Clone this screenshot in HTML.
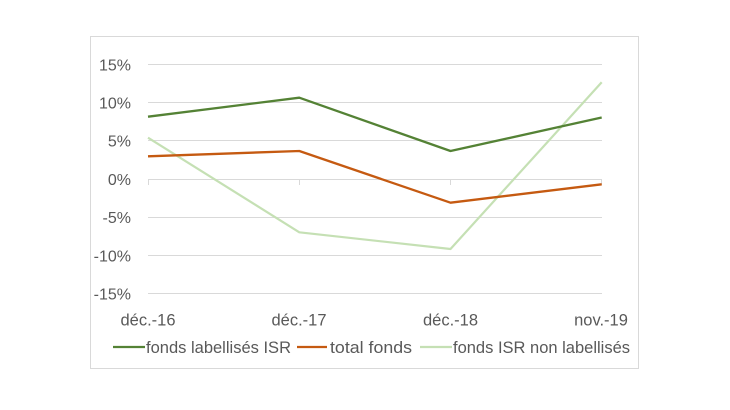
<!DOCTYPE html>
<html><head><meta charset="utf-8"><style>
html,body{margin:0;padding:0;background:#fff;}
svg{display:block;}
text{font-family:"Liberation Sans",sans-serif;fill:#595959;}
</style></head><body>
<svg width="730" height="410" viewBox="0 0 730 410" xmlns="http://www.w3.org/2000/svg">
<rect x="0" y="0" width="730" height="410" fill="#fff"/>
<rect x="90.5" y="36.5" width="548" height="332" fill="#fff" stroke="#D9D9D9" stroke-width="1"/>
<g stroke="#D9D9D9" stroke-width="1">
<line x1="148" y1="64.5" x2="602" y2="64.5"/>
<line x1="148" y1="102.5" x2="602" y2="102.5"/>
<line x1="148" y1="140.5" x2="602" y2="140.5"/>
<line x1="148" y1="217.5" x2="602" y2="217.5"/>
<line x1="148" y1="255.5" x2="602" y2="255.5"/>
<line x1="148" y1="293.5" x2="602" y2="293.5"/>
<line x1="148" y1="179.5" x2="602" y2="179.5"/>
<line x1="148.5" y1="179" x2="148.5" y2="185"/>
<line x1="299.5" y1="179" x2="299.5" y2="185"/>
<line x1="450.5" y1="179" x2="450.5" y2="185"/>
<line x1="601.5" y1="179" x2="601.5" y2="185"/>
</g>
<g font-size="16" text-anchor="end">
<text x="131" y="70.5">15%</text>
<text x="131" y="108.5">10%</text>
<text x="131" y="146.5">5%</text>
<text x="131" y="185">0%</text>
<text x="131" y="223">-5%</text>
<text x="131" y="261.5">-10%</text>
<text x="131" y="299.5">-15%</text>
</g>
<g font-size="16.5" text-anchor="middle">
<text x="148" y="325.5">déc.-16</text>
<text x="299" y="325.5">déc.-17</text>
<text x="450.5" y="325.5">déc.-18</text>
<text x="601" y="325.5">nov.-19</text>
</g>
<polyline points="148,137.7 299.3,232.3 450.5,249 601.7,82.3" fill="none" stroke="#C5E0B4" stroke-width="2.2" stroke-linejoin="round"/>
<polyline points="148,156.3 299.3,151 450.5,202.7 601.7,184.3" fill="none" stroke="#C55A11" stroke-width="2.3" stroke-linejoin="round"/>
<polyline points="148,116.7 299.3,97.7 450.5,151 601.7,117.5" fill="none" stroke="#548235" stroke-width="2.3" stroke-linejoin="round"/>
<line x1="113" y1="347" x2="145" y2="347" stroke="#548235" stroke-width="2.3"/>
<line x1="297" y1="347" x2="327" y2="347" stroke="#C55A11" stroke-width="2.3"/>
<line x1="420" y1="347" x2="452" y2="347" stroke="#C5E0B4" stroke-width="2.2"/>
<g font-size="16.5">
<text x="146" y="353" textLength="145" lengthAdjust="spacingAndGlyphs">fonds labellisés ISR</text>
<text x="330" y="353" textLength="82" lengthAdjust="spacingAndGlyphs">total fonds</text>
<text x="453" y="353" textLength="177" lengthAdjust="spacingAndGlyphs">fonds ISR non labellisés</text>
</g>
</svg>
</body></html>
